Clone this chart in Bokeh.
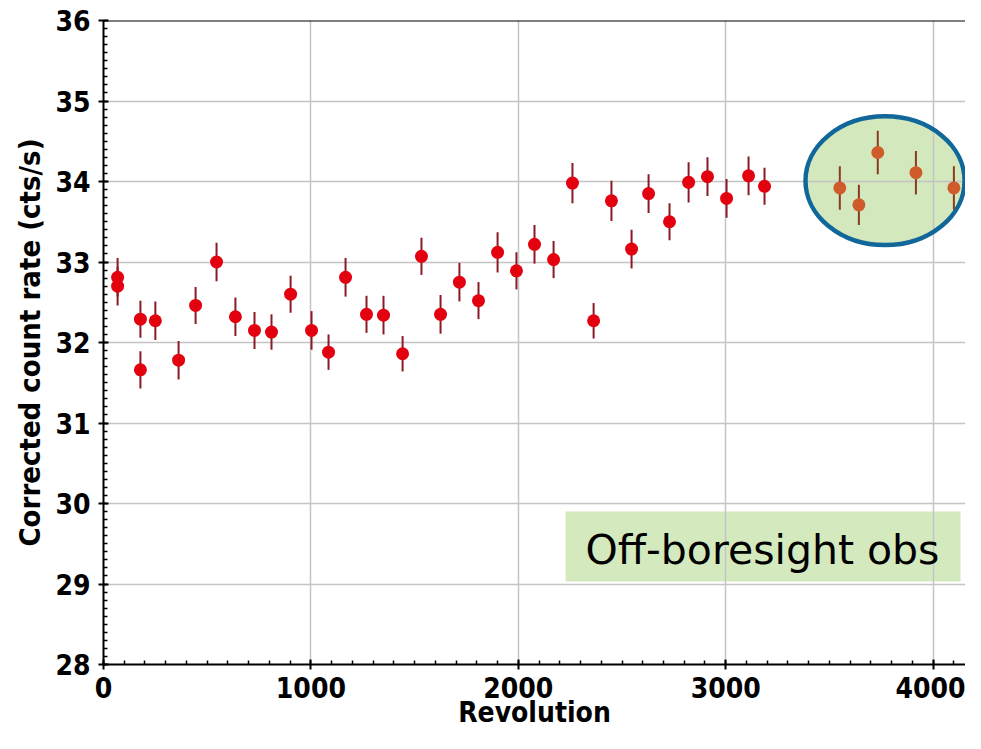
from bokeh.plotting import figure
from bokeh.models import SingleIntervalTicker, Span, Label
from bokeh.embed import file_html
from bokeh.resources import INLINE

# ---- data ----
rev_main = [68, 68, 178, 178, 250, 362, 444, 545, 636, 728, 810, 902, 1003, 1085,
            1167, 1268, 1350, 1442, 1533, 1625, 1716, 1808, 1900, 1991, 2078, 2170,
            2261, 2363, 2449, 2546, 2628, 2729, 2821, 2912, 3004, 3110, 3187]
rate_main = [32.81, 32.70, 32.29, 31.66, 32.27, 31.78, 32.46, 33.00, 32.32, 32.15,
             32.13, 32.60, 32.15, 31.88, 32.81, 32.35, 32.34, 31.86, 33.07, 32.35,
             32.75, 32.52, 33.12, 32.89, 33.22, 33.03, 33.98, 32.27, 33.76, 33.16,
             33.85, 33.50, 33.99, 34.06, 33.79, 34.07, 33.94]
err_main = [0.24, 0.24, 0.23, 0.23, 0.24, 0.24, 0.23, 0.24, 0.24, 0.23,
            0.22, 0.23, 0.24, 0.22, 0.24, 0.23, 0.24, 0.22, 0.23, 0.24,
            0.24, 0.23, 0.25, 0.23, 0.24, 0.23, 0.25, 0.22, 0.25, 0.24,
            0.24, 0.23, 0.25, 0.24, 0.24, 0.24, 0.23]

rev_off = [3550, 3642, 3733, 3917, 4100]
rate_off = [33.92, 33.71, 34.36, 34.11, 33.92]
err_off = [0.27, 0.25, 0.27, 0.27, 0.27]

x_ticks_interval = 1000
y_ticks_interval = 1
note_text = "Off-boresight obs"

# ---- figure ----
p = figure(width=965, height=733, x_range=(0, 4156), y_range=(28, 36),
           output_backend="svg", toolbar_location=None,
           min_border_left=103, min_border_right=0, min_border_top=20,
           min_border_bottom=69)
p.outline_line_color = None
p.background_fill_color = "white"

xt = SingleIntervalTicker(interval=x_ticks_interval, num_minor_ticks=10)
yt = SingleIntervalTicker(interval=y_ticks_interval, num_minor_ticks=10)
p.xaxis[0].ticker = xt
p.yaxis[0].ticker = yt
p.xgrid[0].ticker = xt
p.ygrid[0].ticker = yt

tick_font = "DejaVu Sans Condensed"
for ax in (p.xaxis[0], p.yaxis[0]):
    ax.axis_line_color = "black"
    ax.axis_line_width = 2
    ax.major_tick_line_color = "black"
    ax.major_tick_line_width = 2
    ax.major_tick_in = 5
    ax.major_tick_out = 5
    ax.minor_tick_line_color = "black"
    ax.minor_tick_line_width = 1.5
    ax.minor_tick_in = 4
    ax.minor_tick_out = 0
    ax.major_label_text_font = tick_font
    ax.major_label_text_font_style = "bold"
    ax.major_label_text_font_size = "28px"
    ax.major_label_text_color = "black"
    ax.axis_label_text_font = tick_font
    ax.axis_label_text_font_style = "bold"
    ax.axis_label_text_color = "black"

p.xaxis[0].major_label_standoff = 7
p.xaxis[0].axis_label = "Revolution"
p.xaxis[0].axis_label_text_font_size = "28px"
p.xaxis[0].axis_label_standoff = -5

p.yaxis[0].major_label_standoff = 8
p.yaxis[0].axis_label = "Corrected count rate (cts/s)"
p.yaxis[0].axis_label_text_font_size = "29px"
p.yaxis[0].axis_label_standoff = 5

for g in (p.xgrid[0], p.ygrid[0]):
    g.grid_line_color = "#c4c4c4"
    g.grid_line_width = 1.5

# top border line
p.add_layout(Span(location=36, dimension="width", line_color="black", line_width=2))

# highlight ellipse (fill below the grid, border above)
ell_x, ell_y, ell_w, ell_h = 3768, 34.01, 767, 1.60
p.ellipse(x=[ell_x], y=[ell_y], width=ell_w, height=ell_h,
          fill_color="#d3e9bd", line_color=None, level="image")
p.ellipse(x=[ell_x], y=[ell_y], width=ell_w, height=ell_h,
          fill_color=None, line_color="#12679a", line_width=4.5)

# note box
p.quad(left=[2228], right=[4132], bottom=[29.03], top=[29.90],
       fill_color="#d4e9be", line_color=None, level="image")
p.add_layout(Label(x=2324, y=29.42, text=note_text, text_font="DejaVu Sans",
                   text_font_size="41px", text_baseline="alphabetic",
                   text_color="black"))

# error bars + points
lo_m = [r - e for r, e in zip(rate_main, err_main)]
hi_m = [r + e for r, e in zip(rate_main, err_main)]
p.segment(x0=rev_main, y0=lo_m, x1=rev_main, y1=hi_m, line_color="#8a1a24", line_width=2)
p.scatter(x=rev_main, y=rate_main, marker="circle", size=13,
          fill_color="#e3000f", line_color=None)

lo_o = [r - e for r, e in zip(rate_off, err_off)]
hi_o = [r + e for r, e in zip(rate_off, err_off)]
p.segment(x0=rev_off, y0=lo_o, x1=rev_off, y1=hi_o, line_color="#8b3a20", line_width=2)
p.scatter(x=rev_off, y=rate_off, marker="circle", size=13,
          fill_color="#cf5a2a", line_color=None)

open("out.html", "w").write(file_html(p, INLINE))
